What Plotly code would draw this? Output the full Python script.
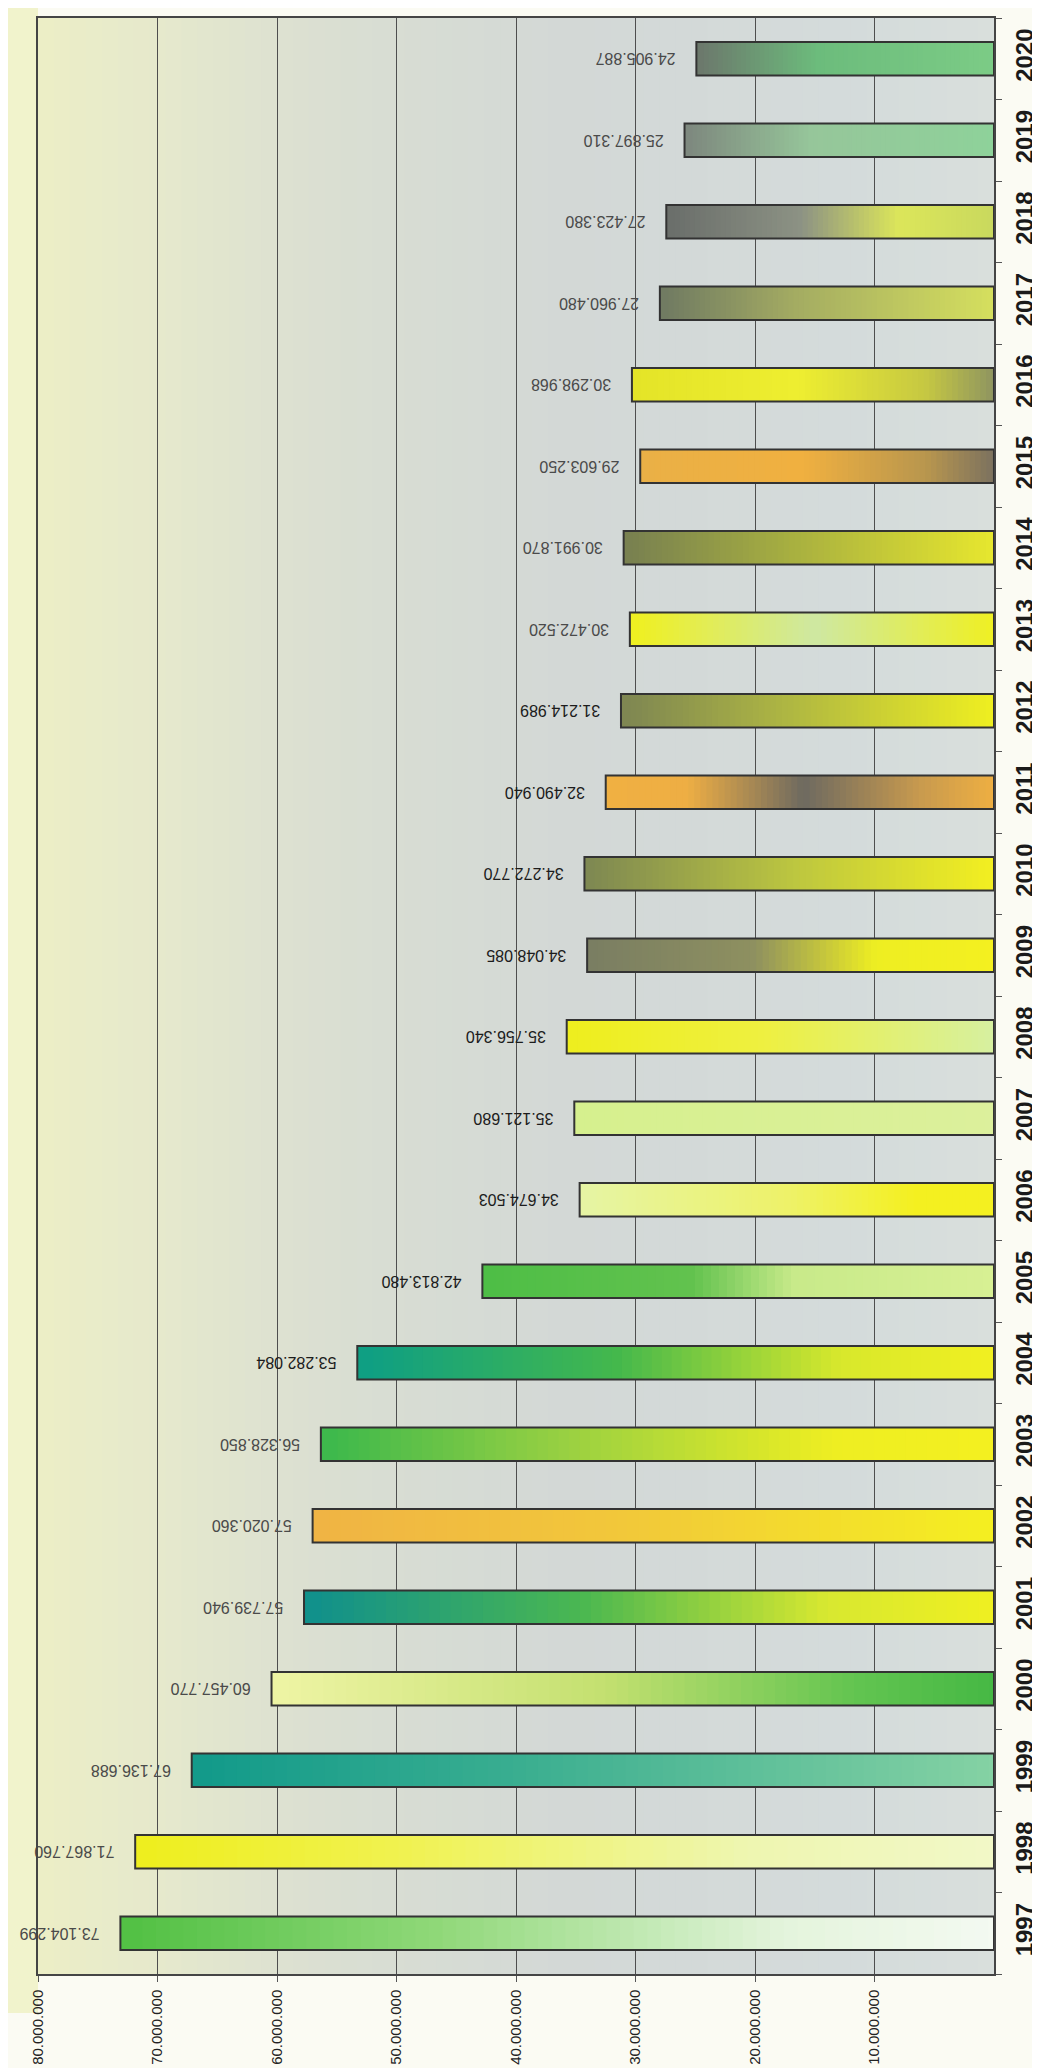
import plotly.graph_objects as go

# ---------------- data ----------------
years = ["1997", "1998", "1999", "2000", "2001", "2002", "2003", "2004", "2005", "2006",
         "2007", "2008", "2009", "2010", "2011", "2012", "2013", "2014", "2015", "2016",
         "2017", "2018", "2019", "2020"]
values = [73104299, 71867760, 67136688, 60457770, 57739940, 57020360, 56328850, 53282084,
          42813480, 34674503, 35121680, 35756340, 34048085, 34272770, 32490940, 31214989,
          30472520, 30991870, 29603250, 30298968, 27960480, 27423380, 25897310, 24905887]
tick_values = [10000000, 20000000, 30000000, 40000000, 50000000, 60000000, 70000000, 80000000]
tick_labels = ["10.000.000", "20.000.000", "30.000.000", "40.000.000", "50.000.000",
               "60.000.000", "70.000.000", "80.000.000"]

# ---------------- styles ----------------
# gradient stops along each bar: position 0 = bar tip (left), 1 = bar base (right)
gradients = {
    "1997": [(0, "#52c044"), (0.35, "#8fd878"), (0.75, "#e4f4dc"), (1, "#f4faf2")],
    "1998": [(0, "#eeee1e"), (0.3, "#f0f250"), (0.7, "#eef6b0"), (1, "#f2f8c8")],
    "1999": [(0, "#129a8a"), (0.4, "#3aae90"), (1, "#86d2a4")],
    "2000": [(0, "#eef4a4"), (0.45, "#c4e070"), (0.8, "#62c450"), (1, "#44b844")],
    "2001": [(0, "#10908c"), (0.4, "#4cb850"), (0.75, "#d8e830"), (1, "#f0f020")],
    "2002": [(0, "#f0b444"), (0.45, "#f2c83a"), (1, "#f4f020")],
    "2003": [(0, "#3cb84c"), (0.35, "#98d042"), (0.75, "#eeee22"), (1, "#f4f020")],
    "2004": [(0, "#0e9e84"), (0.4, "#44b84c"), (0.75, "#d8e82c"), (1, "#f2f020")],
    "2005": [(0, "#4ebe46"), (0.4, "#62c24e"), (0.6, "#c8ea8a"), (1, "#d8f094")],
    "2006": [(0, "#e6f4a4"), (0.5, "#eef268"), (0.8, "#f4f020"), (1, "#f4f020")],
    "2007": [(0, "#d6f08e"), (1, "#dcf09c")],
    "2008": [(0, "#eeee1e"), (0.45, "#eef040"), (1, "#d6f0a2")],
    "2009": [(0, "#7a7e62"), (0.4, "#8e9060"), (0.7, "#eeee22"), (1, "#f4f020")],
    "2010": [(0, "#7e8852"), (0.5, "#bcc640"), (1, "#f4f020")],
    "2011": [(0, "#f0b042"), (0.2, "#eeae44"), (0.5, "#6e6a60"), (0.8, "#c89a4e"), (1, "#f0b042")],
    "2012": [(0, "#7e8652"), (0.45, "#b0b842"), (1, "#f0f020")],
    "2013": [(0, "#f0f020"), (0.5, "#cee8a2"), (1, "#f0f020")],
    "2014": [(0, "#788050"), (0.45, "#a8b040"), (1, "#e8e82e")],
    "2015": [(0, "#eab046"), (0.45, "#f0b040"), (0.8, "#b8964e"), (1, "#787060")],
    "2016": [(0, "#e4e428"), (0.45, "#eeee30"), (0.8, "#c6c842"), (1, "#8c9262")],
    "2017": [(0, "#707a62"), (0.4, "#a4ac62"), (1, "#d6e05e")],
    "2018": [(0, "#6a6e6a"), (0.4, "#8c9284"), (0.7, "#dce65a"), (1, "#c8d85e")],
    "2019": [(0, "#7e887e"), (0.4, "#96c69a"), (1, "#8ed29a")],
    "2020": [(0, "#6c786c"), (0.4, "#6cbc7c"), (1, "#7ccc86")],
}
label_colors = ["#1c1c1c" if 2004 <= int(y) <= 2012 else "#4a4a4a" for y in years]
SANS = "Liberation Sans, Arial, Helvetica, sans-serif"


def hex2rgb(h):
    h = h.lstrip("#")
    return tuple(int(h[i:i + 2], 16) for i in (0, 2, 4))


def interp(stops, p):
    for (p0, c0), (p1, c1) in zip(stops[:-1], stops[1:]):
        if p0 <= p <= p1:
            t = 0 if p1 == p0 else (p - p0) / (p1 - p0)
            a, b = hex2rgb(c0), hex2rgb(c1)
            return "rgb(%d,%d,%d)" % tuple(round(a[i] + (b[i] - a[i]) * t) for i in range(3))
    return stops[-1][1]


BAR_W = 0.41
N = 64
OVER = 0.6  # fraction of a slice each slice reaches back under its neighbour

fig = go.Figure()

# gradient fill of each bar, built as slices of the bar's own value (base -> tip)
for k in range(N):
    pos_from_base = (k + 0.5) / N
    colors = [interp(gradients[y], 1 - pos_from_base) for y in years]
    back = 0 if k == 0 else OVER
    fig.add_trace(go.Bar(
        y=years,
        x=[v / N * (1 + back) for v in values],
        base=[v * (k - back) / N for v in values],
        orientation="h", width=BAR_W,
        marker=dict(color=colors, line=dict(width=0)),
        hoverinfo="skip", showlegend=False,
    ))

# outline + value labels
labels = ["\u00a0\u00a0\u00a0\u00a0" + f"{v:,}".replace(",", ".") for v in values]
fig.add_trace(go.Bar(
    y=years, x=values, orientation="h", width=BAR_W,
    marker=dict(color="rgba(0,0,0,0)", line=dict(color="#333333", width=2)),
    text=labels, textposition="outside", textangle=180, constraintext="none",
    cliponaxis=False,
    textfont=dict(family=SANS, size=16, color=label_colors),
    showlegend=False,
))

# background gradient (plot area)
bg_stops = [(0, "#eceec6"), (0.12, "#e6e9cc"), (0.3, "#dadfd2"), (0.55, "#d3d8d6"),
            (0.85, "#d4dbdb"), (1, "#d9dfdc")]
M = 60
for i in range(M):
    fig.add_shape(type="rect", xref="paper", yref="paper",
                  x0=i / M, x1=(i + 1) / M + 0.002, y0=0, y1=1,
                  fillcolor=interp(bg_stops, (i + 0.5) / M), line=dict(width=0),
                  layer="below")
# left margin tint
fig.add_shape(type="rect", xref="paper", yref="paper", x0=-0.04, x1=0, y0=-0.02, y1=1.01,
              fillcolor="#f1f3cc", line=dict(width=0), layer="below")

fig.update_layout(
    width=1040, height=2068,
    margin=dict(l=30, r=54, t=8, b=102),
    paper_bgcolor="#fbfbf3", plot_bgcolor="#d6dad6",
    barmode="overlay",
    separators=",.",
    font=dict(family=SANS, color="#222"),
)
fig.update_xaxes(
    range=[80000000, 0],
    tickvals=tick_values, ticktext=tick_labels, tickangle=-90,
    tickfont=dict(family=SANS, size=15, color="#222"),
    ticks="outside", ticklen=6, tickcolor="#555",
    ticklabelstandoff=2,
    showgrid=True, gridcolor="#4e4e4e", gridwidth=1,
    zeroline=False,
    showline=True, linecolor="#454545", linewidth=1.5, mirror=True,
)
fig.update_yaxes(
    type="category", categoryorder="array", categoryarray=years,
    range=[-0.5, 23.5], side="right",
    tickangle=-90, tickson="boundaries",
    tickfont=dict(family=SANS, size=24, color="#1a1a1a", weight="bold"),
    ticks="outside", ticklen=6, tickcolor="#555",
    ticklabelstandoff=8,
    showgrid=False, zeroline=False,
    showline=True, linecolor="#454545", linewidth=1.5, mirror=True,
)

fig.write_html("out.html")
